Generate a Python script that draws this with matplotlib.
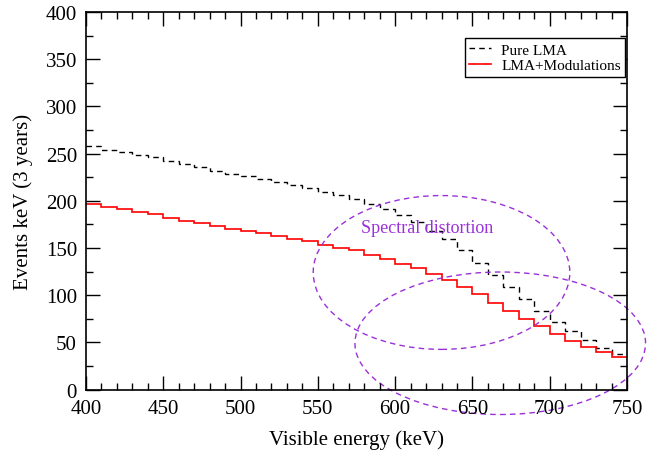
import matplotlib
matplotlib.use("Agg")
import matplotlib.pyplot as plt
from matplotlib.patches import Ellipse
from matplotlib.ticker import MultipleLocator
import numpy as np

plt.rcParams['font.family'] = ['Liberation Serif', 'DejaVu Serif']

bin_edges = np.arange(400, 760, 10)
pure_lma = [257.8, 254.2, 251.4, 248.5, 246.0, 241.8, 238.9, 235.4, 231.8, 228.8,
            226.5, 223.3, 220.0, 216.9, 213.3, 209.4, 206.0, 202.0, 196.5, 191.0,
            185.0, 177.5, 168.0, 159.0, 148.0, 134.0, 121.6, 108.5, 95.7, 83.5,
            71.8, 62.2, 52.3, 44.4, 38.0]
lma_mod = [197.0, 193.8, 190.9, 188.5, 185.6, 182.0, 179.0, 176.0, 173.1, 169.6,
           167.8, 165.3, 162.8, 159.8, 157.1, 152.9, 150.0, 147.5, 142.5, 138.7,
           133.3, 128.7, 122.5, 116.3, 108.8, 101.0, 92.0, 83.2, 74.3, 67.2,
           58.7, 51.5, 45.1, 39.8, 34.5]

fig = plt.figure(figsize=(6.51, 4.52), dpi=100)
ax = fig.add_axes([86/651, 1-390.5/452, (627-86)/651, (390.5-13)/452])

ax.stairs(pure_lma, bin_edges, color='black', linestyle=(0, (4, 3)), linewidth=1.0,
          label='Pure LMA', baseline=None)
ax.stairs(lma_mod, bin_edges, color='red', linestyle='-', linewidth=1.2,
          label='LMA+Modulations', baseline=None)

purple = '#9b30d9'
e1 = Ellipse((630, 124), 166, 163, fill=False, edgecolor=purple, linestyle=(0, (4, 3)),
             linewidth=1.0, clip_on=False)
e2 = Ellipse((668, 49), 188, 151, fill=False, edgecolor=purple, linestyle=(0, (4, 3)),
             linewidth=1.0, clip_on=False)
ax.add_patch(e1)
ax.add_patch(e2)
ax.text(578, 172, 'Spectral distortion', color=purple, fontsize=13, va='center', ha='left')

ax.set_xlim(400, 750)
ax.set_ylim(0, 400)
ax.xaxis.set_major_locator(MultipleLocator(50))
ax.xaxis.set_minor_locator(MultipleLocator(10))
ax.yaxis.set_major_locator(MultipleLocator(50))
ax.yaxis.set_minor_locator(MultipleLocator(25))
ax.tick_params(which='both', direction='in', top=True, right=True, labelsize=15)
ax.tick_params(which='major', length=10, width=1)
ax.tick_params(which='minor', length=5, width=1)
ax.tick_params(axis='x', which='both', pad=7)
ax.tick_params(axis='y', which='both', pad=6.5)
for s in ax.spines.values():
    s.set_linewidth(1.2)

ax.set_xlabel('Visible energy (keV)', fontsize=15, labelpad=8)
ax.set_ylabel('Events keV (3 years)', fontsize=15, labelpad=9)

leg = ax.legend(loc='upper right', bbox_to_anchor=(0.997, 0.930), fontsize=11,
                frameon=True, fancybox=False, edgecolor='black', framealpha=1,
                handlelength=1.45, borderpad=0.3, labelspacing=0.1, handletextpad=0.65,
                borderaxespad=0)
leg.get_frame().set_linewidth(1.0)

fig.savefig('out.png', dpi=100)
